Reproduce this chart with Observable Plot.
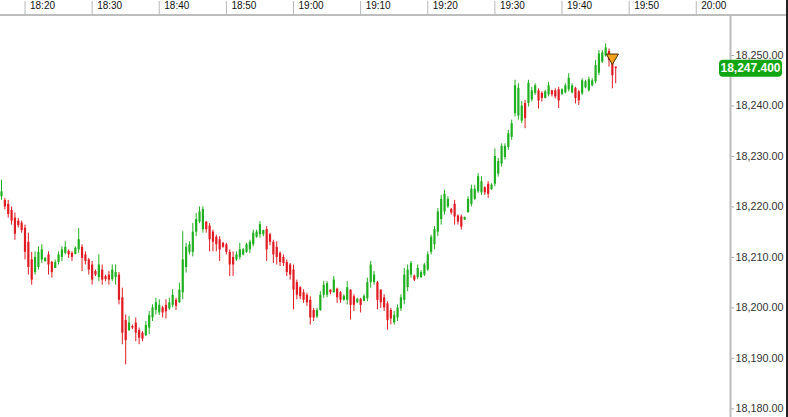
<!DOCTYPE html>
<html>
<head>
<meta charset="utf-8">
<script src="https://cdn.jsdelivr.net/npm/d3@7"></script>
<script src="https://cdn.jsdelivr.net/npm/@observablehq/plot@0.6"></script>
<style>
  body { margin: 0; background: #fff; }
  #chart01 { width: 788px; height: 417px; overflow: hidden; }
</style>
</head>
<body>
<div id="chart01"></div>
<script>
// 30-second bars, first one at 18:16:30
const firstBar = [18, 16, 30]
const barSeconds = 30

const opens = [
  18222.0, 18221.3, 18220.5, 18219.3, 18217.8, 18217.2, 18216.8, 18215.8, 18213.0, 18209.5,
  18207.0, 18208.0, 18209.5, 18209.2, 18210.5, 18209.0, 18207.8, 18209.0, 18210.0, 18210.8,
  18211.2, 18210.8, 18210.6, 18211.5, 18212.0, 18210.5, 18209.5, 18208.5, 18207.2, 18206.0,
  18207.5, 18206.2, 18206.5, 18205.6, 18206.0, 18206.5, 18202.0, 18197.5, 18195.5, 18196.3,
  18197.0, 18195.5, 18195.0, 18194.5, 18196.0, 18198.0, 18199.5, 18199.0, 18200.0, 18200.5,
  18199.8, 18200.5, 18201.5, 18201.0, 18203.0, 18208.0, 18211.0, 18211.0, 18215.0, 18217.0,
  18215.5, 18217.0, 18216.2, 18215.0, 18214.0, 18213.5, 18212.8, 18212.5, 18211.0, 18210.0,
  18209.5, 18210.0, 18210.5, 18211.0, 18211.5, 18212.5, 18214.0, 18214.5, 18214.5, 18215.5,
  18214.5, 18213.0, 18212.0, 18210.8, 18210.0, 18209.0, 18208.5, 18207.5, 18205.0, 18204.0,
  18203.0, 18202.5, 18201.5, 18199.5, 18198.2, 18199.5, 18202.5, 18202.5, 18203.5, 18203.0,
  18203.7, 18203.0, 18201.5, 18201.5, 18203.5, 18202.2, 18201.0, 18201.7, 18201.3, 18201.8,
  18205.0, 18205.0, 18205.0, 18203.5, 18202.0, 18200.8, 18199.5, 18197.0, 18198.0, 18199.8,
  18201.5, 18204.0, 18206.5, 18206.3, 18206.0, 18206.0, 18206.5, 18207.5, 18211.0, 18212.5,
  18215.0, 18217.5, 18219.0, 18220.0, 18219.5, 18220.5, 18218.2, 18218.0, 18217.4, 18218.9,
  18220.5, 18221.5, 18223.0, 18222.8, 18223.8, 18224.5, 18223.4, 18224.5, 18226.5, 18228.5,
  18229.8, 18231.8, 18233.8, 18238.5, 18238.0, 18237.0, 18240.5, 18240.5, 18241.2, 18242.5,
  18243.0, 18242.5, 18241.5, 18242.2, 18243.0, 18243.0, 18243.2, 18242.3, 18242.6, 18243.2,
  18242.6, 18243.5, 18242.8, 18242.4, 18243.6, 18243.0, 18244.0, 18244.8, 18246.5, 18248.7,
  18249.9, 18250.8, 18248.8, 18247.7
]
const highs = [
  18225.3, 18221.7, 18221.3, 18220.0, 18218.8, 18217.7, 18217.2, 18216.4, 18214.8, 18211.0,
  18211.1, 18212.1, 18212.5, 18210.0, 18211.1, 18209.2, 18209.5, 18211.1, 18212.1, 18213.1,
  18211.5, 18211.1, 18212.1, 18215.7, 18212.5, 18211.1, 18209.8, 18209.2, 18207.5, 18210.5,
  18208.5, 18206.5, 18207.2, 18208.5, 18208.5, 18207.0, 18203.9, 18198.6, 18198.3, 18196.6,
  18198.0, 18196.0, 18195.3, 18197.3, 18199.3, 18200.6, 18201.9, 18201.6, 18200.3, 18201.6,
  18201.9, 18203.6, 18201.9, 18204.9, 18215.1, 18212.8, 18213.1, 18216.7, 18218.7, 18220.0,
  18220.0, 18217.1, 18216.7, 18215.4, 18214.4, 18214.1, 18213.0, 18212.8, 18211.5, 18211.1,
  18211.1, 18212.8, 18211.8, 18212.8, 18213.4, 18215.4, 18215.4, 18217.1, 18215.4, 18216.1,
  18214.8, 18213.4, 18213.1, 18211.1, 18210.5, 18209.5, 18208.8, 18208.5, 18205.5, 18204.2,
  18203.6, 18202.9, 18202.2, 18199.9, 18199.9, 18203.2, 18205.2, 18205.2, 18203.6, 18206.2,
  18203.9, 18203.2, 18202.6, 18205.2, 18203.6, 18202.6, 18201.9, 18201.9, 18202.6, 18205.9,
  18209.2, 18207.2, 18205.2, 18203.6, 18202.6, 18201.2, 18199.9, 18199.3, 18200.6, 18202.6,
  18207.8, 18208.5, 18209.2, 18206.5, 18208.5, 18207.4, 18208.8, 18211.1, 18214.4, 18216.1,
  18219.7, 18222.3, 18223.3, 18222.0, 18219.7, 18221.3, 18218.4, 18218.4, 18218.0, 18222.0,
  18224.3, 18224.3, 18226.6, 18226.0, 18224.0, 18225.0, 18224.6, 18231.5, 18229.6, 18232.5,
  18232.5, 18235.2, 18237.2, 18245.1, 18244.4, 18240.9, 18241.1, 18245.1, 18243.7, 18244.4,
  18243.4, 18242.8, 18243.1, 18244.7, 18243.1, 18243.4, 18243.7, 18243.4, 18244.4, 18246.4,
  18244.4, 18243.7, 18243.1, 18245.4, 18245.1, 18245.7, 18245.4, 18249.0, 18251.0, 18251.0,
  18252.3, 18251.3, 18249.0, 18247.7
]
const lows = [
  18221.3, 18219.4, 18217.8, 18216.4, 18213.4, 18215.8, 18214.8, 18209.5, 18206.5, 18204.5,
  18206.5, 18207.5, 18208.8, 18209.0, 18206.5, 18205.9, 18207.8, 18208.5, 18209.2, 18210.5,
  18209.8, 18209.2, 18210.5, 18210.8, 18207.2, 18208.5, 18206.5, 18204.5, 18206.2, 18205.2,
  18204.5, 18205.2, 18204.5, 18205.2, 18204.5, 18200.6, 18192.7, 18188.7, 18195.3, 18195.7,
  18193.3, 18192.7, 18193.3, 18194.3, 18194.7, 18197.3, 18198.6, 18198.5, 18198.0, 18197.8,
  18199.5, 18200.0, 18199.5, 18200.9, 18201.6, 18206.9, 18210.5, 18210.1, 18214.1, 18216.7,
  18214.8, 18214.8, 18211.1, 18211.1, 18211.1, 18209.2, 18211.8, 18210.5, 18206.2, 18206.2,
  18209.2, 18209.5, 18210.3, 18210.8, 18210.8, 18212.1, 18213.8, 18213.8, 18214.1, 18209.2,
  18212.3, 18208.8, 18208.5, 18208.2, 18208.2, 18206.2, 18205.5, 18199.6, 18201.6, 18201.6,
  18200.9, 18200.3, 18196.6, 18197.3, 18197.9, 18199.3, 18201.9, 18202.0, 18202.6, 18202.9,
  18200.9, 18200.9, 18201.3, 18200.6, 18197.6, 18199.3, 18200.9, 18199.0, 18201.2, 18201.2,
  18203.9, 18204.5, 18199.6, 18199.9, 18199.3, 18195.6, 18196.6, 18196.6, 18197.3, 18199.3,
  18200.6, 18203.2, 18205.9, 18205.2, 18205.6, 18205.8, 18206.2, 18207.2, 18210.5, 18211.5,
  18214.1, 18216.4, 18218.4, 18219.7, 18218.4, 18216.4, 18216.4, 18215.4, 18217.3, 18218.7,
  18220.0, 18221.3, 18222.7, 18222.3, 18222.3, 18221.7, 18223.3, 18224.0, 18225.9, 18227.9,
  18229.3, 18231.2, 18233.2, 18237.8, 18237.2, 18236.5, 18235.5, 18239.8, 18240.8, 18242.1,
  18239.4, 18240.8, 18241.4, 18241.8, 18241.8, 18241.4, 18239.5, 18242.1, 18242.4, 18242.8,
  18242.4, 18240.4, 18240.1, 18242.1, 18243.4, 18242.8, 18243.8, 18244.4, 18246.0, 18248.4,
  18249.7, 18247.7, 18243.4, 18244.4
]
const closes = [
  18223.0, 18220.0, 18218.5, 18217.2, 18214.6, 18216.3, 18215.3, 18211.0, 18208.0, 18205.5,
  18210.0, 18211.0, 18211.5, 18209.8, 18208.5, 18207.0, 18209.0, 18210.5, 18211.5, 18212.0,
  18210.5, 18210.0, 18211.8, 18213.5, 18209.8, 18209.2, 18207.5, 18205.5, 18206.5, 18208.5,
  18205.5, 18205.6, 18205.5, 18207.5, 18207.0, 18201.5, 18195.0, 18193.5, 18197.0, 18196.0,
  18195.0, 18194.0, 18193.8, 18196.5, 18198.5, 18200.0, 18201.0, 18200.5, 18199.0, 18199.2,
  18201.0, 18202.5, 18200.3, 18203.5, 18209.5, 18212.0, 18212.5, 18215.0, 18217.5, 18219.0,
  18219.5, 18215.5, 18213.5, 18213.0, 18212.5, 18211.5, 18212.0, 18211.0, 18208.5, 18208.5,
  18210.5, 18211.5, 18211.5, 18212.5, 18213.0, 18214.8, 18215.0, 18216.5, 18215.3, 18211.5,
  18213.0, 18210.5, 18210.0, 18209.0, 18208.8, 18207.0, 18206.5, 18203.5, 18202.5, 18202.2,
  18201.5, 18201.0, 18198.0, 18198.0, 18199.5, 18202.5, 18204.5, 18204.8, 18203.0, 18205.5,
  18202.0, 18201.5, 18202.3, 18204.0, 18200.5, 18200.5, 18201.7, 18200.5, 18202.3, 18205.0,
  18208.5, 18206.5, 18201.5, 18201.0, 18200.0, 18197.5, 18197.8, 18198.5, 18200.0, 18202.0,
  18206.5, 18207.5, 18208.8, 18205.5, 18207.8, 18207.0, 18208.5, 18210.5, 18214.0, 18215.5,
  18219.0, 18221.5, 18222.5, 18221.5, 18218.8, 18218.0, 18217.0, 18216.0, 18217.9, 18221.5,
  18223.5, 18223.5, 18226.0, 18225.0, 18222.8, 18222.5, 18224.3, 18230.0, 18229.0, 18232.0,
  18232.0, 18234.5, 18236.5, 18244.0, 18243.5, 18240.0, 18237.5, 18244.5, 18243.0, 18244.0,
  18241.0, 18241.5, 18242.8, 18244.0, 18242.2, 18241.8, 18241.0, 18243.2, 18244.0, 18245.5,
  18244.0, 18241.5, 18241.0, 18245.0, 18244.8, 18245.2, 18245.0, 18248.0, 18250.3, 18250.5,
  18251.5, 18249.0, 18246.0, 18247.4
]

const xTickLabels = ["18:20", "18:30", "18:40", "18:50", "19:00", "19:10", "19:20", "19:30", "19:40", "19:50", "20:00"]
const yTickValues = [18180, 18190, 18200, 18210, 18220, 18230, 18240, 18250]
const lastPrice = 18247.4
const markerBar = 182
const markerPrice = 18249.6

const upColor = "#21b021"
const downColor = "#e11b22"

const t0 = Date.UTC(2024, 0, 2, firstBar[0], firstBar[1], firstBar[2])
const bars = closes.map((c, i) => ({
  time: new Date(t0 + i * barSeconds * 1000),
  open: opens[i], high: highs[i], low: lows[i], close: c
}))
const hhmm = s => new Date(Date.UTC(2024, 0, 2, +s.slice(0, 2), +s.slice(3, 5)))
const xTicks = xTickLabels.map(hhmm)
const marker = [{time: bars[markerBar].time, price: markerPrice}]

const barColor = d => d.close >= d.open ? upColor : downColor

const chart = Plot.plot({
  width: 788,
  height: 417,
  marginLeft: 0,
  marginRight: 58,
  marginTop: 15,
  marginBottom: 0,
  style: {fontFamily: "'Liberation Sans', Arial, sans-serif", fontSize: "10.8px", color: "#222", background: "#fff"},
  x: {type: "utc", domain: [new Date(Date.UTC(2024, 0, 2, 18, 16, 21)), new Date(Date.UTC(2024, 0, 2, 20, 5, 6))], label: null},
  y: {domain: [18178.28, 18257.93], label: null},
  marks: [
    Plot.ruleX(bars, {x: "time", y1: "low", y2: "high", stroke: barColor, strokeWidth: 1}),
    Plot.ruleX(bars, {x: "time", y1: "open", y2: "close", stroke: barColor, strokeWidth: 2.2}),
    Plot.axisX(xTicks, {anchor: "top", tickSize: 15, stroke: "#b8b8b8", fill: "none", label: null}),
    Plot.axisX(xTicks, {anchor: "top", tickSize: 0, tickPadding: 7, textAnchor: "start", dx: 5,
      tickFormat: d3.utcFormat("%H:%M"), fill: "#111", fontSize: 10, label: null}),
    Plot.axisY(yTickValues, {anchor: "right", tickSize: 3, tickPadding: 2, stroke: "#aaa", fill: "#333",
      tickFormat: d3.format(",.2f"), label: null}),
    Plot.frame({anchor: "right", stroke: "#bdbdbd", strokeWidth: 2}),
    Plot.dot(marker, {x: "time", y: "price", symbol: "triangle", rotate: 180, r: 4.5,
      fill: "#f7a21e", stroke: "#4a3000", strokeWidth: 1})
  ]
})

// top rule across the whole width and dark right border
const svg = d3.select(chart)
svg.append("line").attr("x1", 0).attr("x2", 788).attr("y1", 15).attr("y2", 15)
  .attr("stroke", "#bdbdbd").attr("stroke-width", 2)
svg.append("line").attr("x1", 787).attr("x2", 787).attr("y1", 0).attr("y2", 417)
  .attr("stroke", "#222").attr("stroke-width", 2)

// last price tag on the price axis
const yLast = chart.scale("y").apply(lastPrice)
const tag = svg.append("g")
tag.append("rect").attr("x", 719).attr("y", yLast - 8.5).attr("width", 63).attr("height", 17)
  .attr("rx", 4).attr("fill", "#12a612")
tag.append("text").attr("x", 750.5).attr("y", yLast).attr("dy", "0.36em")
  .attr("text-anchor", "middle").attr("fill", "#fff").attr("font-weight", "bold")
  .attr("font-size", 12).text(d3.format(",.3f")(lastPrice))

d3.select('#chart01').append(() => chart)
</script>
</body>
</html>
